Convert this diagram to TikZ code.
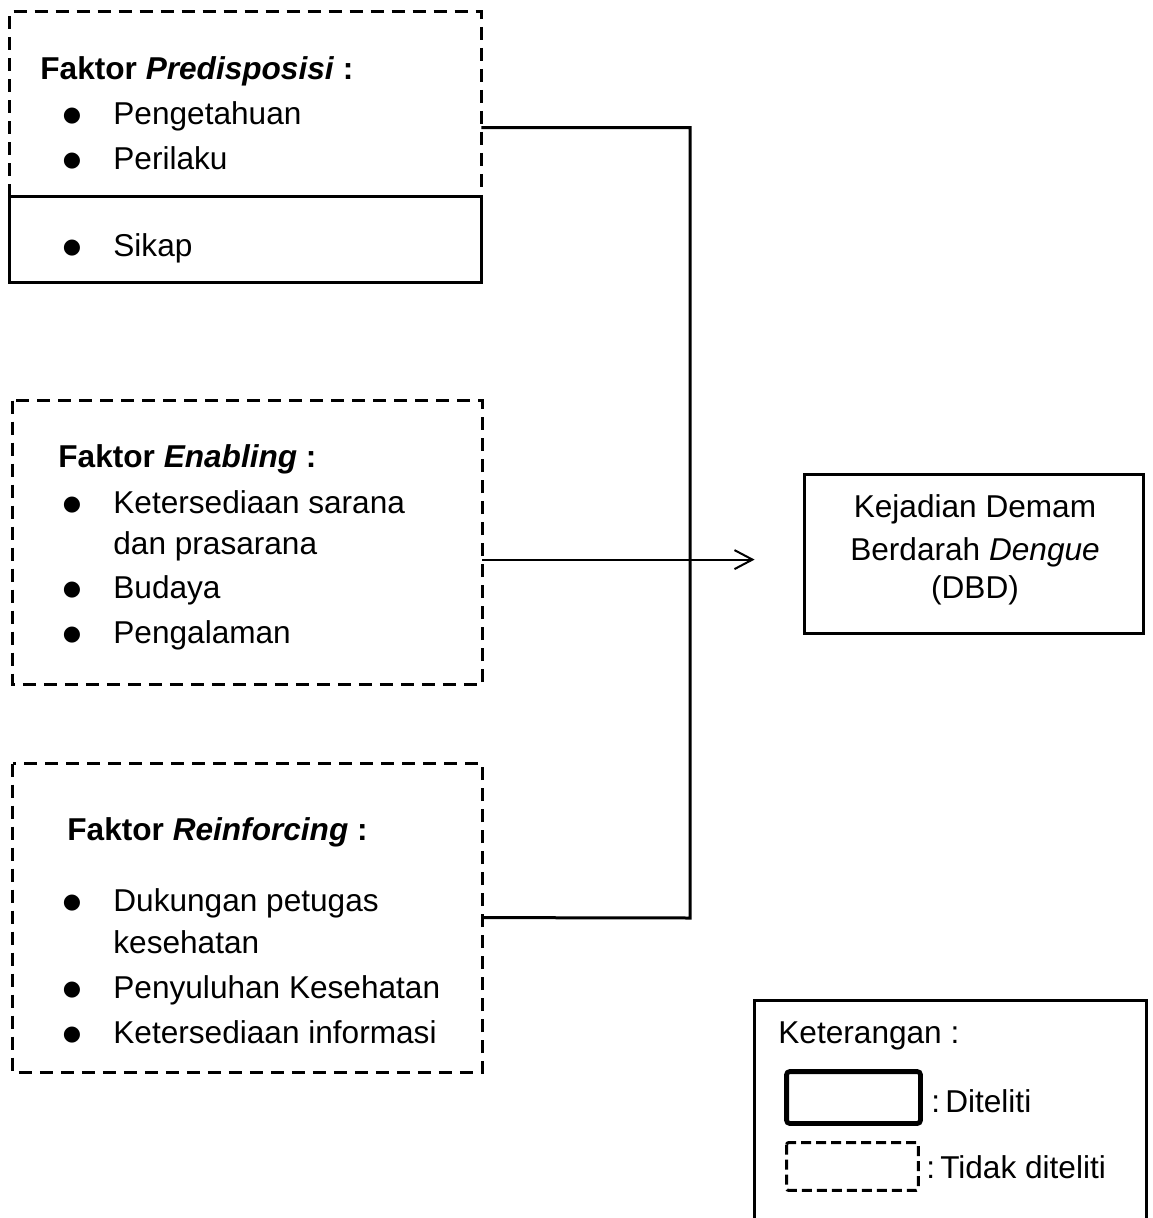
\documentclass[tikz,border=0pt]{standalone}
\usepackage{fontspec}
\setmainfont{Liberation Sans}
\newfontfamily\symfont{DejaVu Sans}
\usetikzlibrary{calc,fit,arrows.meta}
\newcommand\bitem[3]{\node[bul] (#1b) at (72,#2-3) {●}; \node[txt] (#1) at (113,#2) {#3};}
\begin{document}
\begin{tikzpicture}[x=0.5pt,y=-0.5pt,
  txt/.style={anchor=base west, inner sep=0pt, font=\fontsize{15.8}{19}\selectfont},
  ctxt/.style={anchor=base, inner sep=0pt, font=\fontsize{15.8}{19}\selectfont},
  bul/.style={anchor=base, inner sep=0pt, font=\symfont\fontsize{10.5}{12}\selectfont},
  frame/.style={inner sep=0pt},
  dashline/.style={line width=1.5pt, dash pattern=on 6.5pt off 4pt},
  solidline/.style={line width=1.5pt},
  bracket/.style={line width=1.5pt},
  arr/.style={line width=1pt, -{Straight Barb[length=9pt,width=9.5pt]}}]
\fill[white] (0,0) rectangle (1152,1218);
\useasboundingbox (0,0) rectangle (1152,1218);

% frames
\node[frame, fit={(10,12)(481,282)}] (pre) {};
\node[frame, fit={(13,401)(482,684)}] (ena) {};
\node[frame, fit={(13,764)(482,1072)}] (rei) {};
\node[frame, fit={(805,475)(1143,633)}] (dbd) {};
\node[frame, fit={(755,1001)(1146,1218)}] (leg) {};

% box 1
\draw[dashline] ($(pre.north west)+(0,185)$) |- (pre.north east) -- ($(pre.north east)+(0,185)$);
\draw[solidline] ($(pre.north west)+(0,185)$) rectangle (pre.south east);
\node[txt] (pret) at (40,80) {\textbf{Faktor \textit{Predisposisi} :}};
\bitem{p1}{125}{Pengetahuan}
\bitem{p2}{170}{Perilaku}
\bitem{p3}{257}{Sikap}

% box 2
\draw[dashline] (ena.north west) rectangle (ena.south east);
\node[txt] (enat) at (58,467) {\textbf{Faktor \textit{Enabling} :}};
\bitem{e1}{513}{Ketersediaan sarana}
\node[txt] (e1c) at (113,554) {dan prasarana};
\bitem{e2}{598}{Budaya}
\bitem{e3}{643}{Pengalaman}

% box 3
\draw[dashline] (rei.north west) rectangle (rei.south east);
\node[txt] (reit) at (67,840) {\textbf{Faktor \textit{Reinforcing} :}};
\bitem{r1}{911}{Dukungan petugas}
\node[txt] (r1c) at (113,953) {kesehatan};
\bitem{r2}{998}{Penyuluhan Kesehatan}
\bitem{r3}{1043}{Ketersediaan informasi}

% DBD
\draw[solidline] (dbd.north west) rectangle (dbd.south east);
\node[ctxt] (d1) at (975,517) {Kejadian Demam};
\node[ctxt] (d2) at (975,560) {Berdarah \textit{Dengue}};
\node[ctxt] (d3) at (975,598) {(DBD)};

% connectors
\draw[bracket] ($(pre.north east)+(0,116)$) -| (690,918) -- ($(rei.north east)+(0,154)$);
\coordinate (a0) at ($(ena.north east)+(0,159)$);
\draw[arr, shorten >=25pt] (a0) -- (a0 -| dbd.west);

% legend
\draw[solidline] (leg.south west) |- (leg.north east) -- (leg.south east);
\node[txt] (k0) at (778,1043) {Keterangan :};
\node[frame, fit={(787,1072)(920,1123)}] (ls) {};
\draw[line width=2.4pt, rounded corners=1.5pt] (ls.north west) rectangle (ls.south east);
\node[txt] (k1) at (931,1112) {:\hspace{0.16em}Diteliti};
\node[frame, fit={(787,1143)(918,1190)}] (ld) {};
\draw[line width=1.5pt, dash pattern=on 5pt off 2.5pt, rounded corners=1pt] (ld.north west) rectangle (ld.south east);
\node[txt] (k2) at (926,1178) {:\hspace{0.16em}Tidak diteliti};
\end{tikzpicture}
\end{document}
